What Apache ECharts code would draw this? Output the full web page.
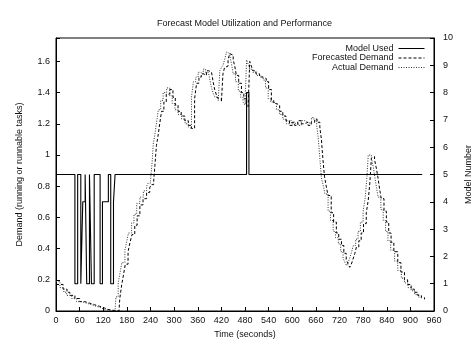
<!DOCTYPE html>
<html>
<head>
<meta charset="utf-8">
<script src="https://cdn.jsdelivr.net/npm/echarts@6/dist/echarts.min.js"></script>
<style>
  html, body { margin: 0; padding: 0; background: #fff; }
  #main { width: 474px; height: 344px; }
</style>
</head>
<body>
<div id="main"></div>
<script>
// time (s) ticks
var timeTicks = [0, 60, 120, 180, 240, 300, 360, 420, 480, 540, 600, 660, 720, 780, 840, 900, 960];

// model number in use, [time, model]
var modelUsed = [[0,5],[48,1],[55,5],[63,1],[68,4],[74,5],[78,1],[85,5],[90,1],[97,5],[112,1],[118,4],
  [133,5],[139,1],[146,4],[150,5],[484,8],[490,5],[930,5]];

// actual demand, [time, tasks]
var actualDemand = [[0,0.19],[10,0.15],[20,0.12],[27,0.10],[40,0.08],[52,0.06],[65,0.05],[78,0.04],[90,0.03],
  [103,0.02],[115,0.01],[124,0.005],[135,0],[150,0],[152,0.09],[158,0.18],[163,0.25],[167,0.31],[175,0.39],
  [180,0.45],[184,0.50],[192,0.565],[198,0.62],[205,0.69],[213,0.73],[222,0.77],[230,0.80],[234,0.82],
  [240,0.835],[244,0.95],[247,1.07],[251,1.13],[256,1.22],[260,1.29],[266,1.35],[272,1.40],[281,1.43],
  [289,1.38],[295,1.33],[302,1.29],[310,1.26],[319,1.23],[328,1.20],[336,1.18],[340,1.17],[344,1.37],
  [349,1.47],[355,1.50],[361,1.53],[367,1.52],[374,1.55],[380,1.53],[387,1.54],[391,1.48],[395,1.43],
  [400,1.39],[404,1.37],[412,1.35],[416,1.54],[420,1.56],[425,1.58],[429,1.62],[433,1.66],[438,1.65],
  [442,1.63],[446,1.58],[450,1.52],[456,1.47],[463,1.41],[469,1.37],[475,1.34],[480,1.32],[484,1.61],
  [488,1.58],[492,1.55],[500,1.53],[509,1.51],[517,1.50],[526,1.48],[532,1.43],[539,1.36],[545,1.34],
  [552,1.33],[560,1.29],[568,1.26],[576,1.23],[585,1.20],[592,1.22],[598,1.20],[606,1.21],[615,1.19],
  [623,1.22],[632,1.21],[640,1.20],[649,1.24],[655,1.22],[662,1.19],[666,1.11],[670,0.98],[674,0.855],
  [679,0.80],[683,0.75],[691,0.64],[697,0.58],[704,0.51],[710,0.47],[717,0.43],[723,0.38],[729,0.34],
  [734,0.31],[738,0.29],[742,0.31],[746,0.34],[751,0.38],[755,0.42],[761,0.46],[767,0.51],[773,0.57],
  [780,0.64],[785,0.72],[789,0.835],[793,1.0],[797,1.0],[801,0.98],[806,0.92],[810,0.855],[814,0.79],
  [818,0.73],[825,0.65],[831,0.58],[837,0.51],[843,0.45],[850,0.39],[860,0.32],[868,0.26],[877,0.21],
  [885,0.18],[894,0.15],[902,0.13],[911,0.105],[920,0.09],[928,0.083]];

// forecasted demand, [time, tasks]
var forecastDemand = [[0,0.17],[8,0.17],[18,0.14],[28,0.12],[35,0.10],[48,0.08],[60,0.06],[73,0.05],[86,0.04],
  [98,0.03],[111,0.02],[123,0.01],[132,0.005],[143,0],[160,0],[162,0.08],[167,0.17],[172,0.24],[176,0.30],
  [183,0.38],[188,0.44],[193,0.49],[200,0.55],[206,0.61],[213,0.68],[221,0.72],[230,0.76],[238,0.79],
  [242,0.81],[248,0.83],[252,0.96],[255,1.06],[259,1.12],[264,1.21],[268,1.28],[274,1.34],[280,1.39],
  [289,1.42],[297,1.37],[303,1.32],[310,1.28],[318,1.25],[327,1.22],[336,1.19],[344,1.17],[348,1.17],
  [352,1.36],[357,1.46],[363,1.50],[369,1.52],[375,1.51],[382,1.54],[388,1.53],[395,1.52],[399,1.47],
  [403,1.42],[408,1.38],[412,1.36],[420,1.34],[424,1.52],[428,1.56],[433,1.57],[437,1.61],[441,1.65],
  [446,1.64],[450,1.61],[454,1.57],[458,1.51],[464,1.46],[471,1.40],[477,1.36],[483,1.33],[488,1.31],
  [492,1.60],[496,1.57],[500,1.54],[508,1.52],[517,1.50],[525,1.49],[534,1.47],[540,1.42],[547,1.35],
  [553,1.33],[560,1.32],[568,1.28],[576,1.25],[584,1.22],[593,1.19],[600,1.21],[606,1.19],[614,1.22],
  [623,1.20],[631,1.21],[640,1.19],[648,1.21],[657,1.23],[663,1.21],[670,1.18],[674,1.10],[678,0.97],
  [682,0.86],[687,0.79],[691,0.74],[699,0.63],[705,0.57],[712,0.50],[718,0.46],[725,0.42],[731,0.37],
  [737,0.33],[742,0.30],[746,0.28],[750,0.30],[754,0.33],[759,0.37],[763,0.41],[769,0.45],[775,0.50],
  [781,0.56],[788,0.63],[793,0.71],[797,0.82],[801,0.98],[805,0.99],[809,0.97],[814,0.91],[818,0.85],
  [822,0.78],[826,0.72],[833,0.64],[839,0.57],[845,0.50],[851,0.44],[858,0.38],[868,0.31],[876,0.25],
  [885,0.20],[893,0.17],[902,0.14],[910,0.12],[919,0.10],[928,0.085],[936,0.075]];

var seriesNames = ['Model Used', 'Forecasted Demand', 'Actual Demand'];

var font = 'Liberation Sans, Arial, Helvetica, sans-serif';
var ink = '#111';

var myChart = echarts.init(document.getElementById('main'));

// one legend per row so the line samples line up on the right
function legendRow(name, top) {
  return {
    data: [name],
    orient: 'vertical',
    align: 'right',
    right: 49,
    top: top,
    itemWidth: 26,
    itemHeight: 8,
    padding: 0,
    selectedMode: false,
    itemStyle: { opacity: 0 },
    lineStyle: { width: 1 },
    textStyle: { fontFamily: font, fontSize: 9, color: ink }
  };
}

var option = {
  animation: false,
  backgroundColor: '#fff',
  title: {
    text: 'Forecast Model Utilization and Performance',
    left: 157,
    top: 19,
    padding: 0,
    textStyle: { fontFamily: font, fontSize: 9, fontWeight: 'normal', color: ink }
  },
  legend: [
    legendRow(seriesNames[0], 44),
    legendRow(seriesNames[1], 53.5),
    legendRow(seriesNames[2], 63)
  ],
  grid: {
    left: 56, right: 40, top: 38, bottom: 33,
    show: true, borderColor: '#000', borderWidth: 1,
    outerBoundsMode: 'none'
  },
  xAxis: {
    type: 'value',
    min: timeTicks[0],
    max: timeTicks[timeTicks.length - 1],
    interval: 60,
    name: 'Time (seconds)',
    nameLocation: 'middle',
    nameGap: 17,
    nameTextStyle: { fontFamily: font, fontSize: 9, color: ink },
    axisLine: { lineStyle: { color: '#000', width: 1 } },
    axisTick: { inside: true, length: 4, lineStyle: { color: '#000' } },
    axisLabel: { fontFamily: font, fontSize: 9, color: ink, margin: 5 },
    splitLine: { show: false }
  },
  yAxis: [{
    type: 'value',
    min: 0,
    max: 1.75,
    interval: 0.2,
    name: 'Demand (running or runnable tasks)',
    nameLocation: 'middle',
    nameRotate: 90,
    nameGap: 32,
    nameTextStyle: { fontFamily: font, fontSize: 9, color: ink },
    axisLine: { show: true, lineStyle: { color: '#000', width: 1 } },
    axisTick: { inside: true, length: 4, lineStyle: { color: '#000' } },
    axisLabel: {
      fontFamily: font, fontSize: 9, color: ink, margin: 6,
      formatter: function (v) { return v > 1.7 ? '' : +v.toFixed(1) + ''; }
    },
    splitLine: { show: false }
  }, {
    type: 'value',
    position: 'right',
    min: 0,
    max: 10,
    interval: 1,
    name: 'Model Number',
    nameLocation: 'middle',
    nameRotate: 90,
    nameGap: 28,
    nameTextStyle: { fontFamily: font, fontSize: 9, color: ink },
    axisLine: { show: true, lineStyle: { color: '#000', width: 1 } },
    axisTick: { inside: true, length: 4, lineStyle: { color: '#000' } },
    axisLabel: { fontFamily: font, fontSize: 9, color: ink, margin: 9 },
    splitLine: { show: false }
  }],
  series: [{
    name: seriesNames[0],
    type: 'line',
    yAxisIndex: 1,
    step: 'end',
    data: modelUsed,
    showSymbol: false,
    symbol: 'none',
    lineStyle: { color: '#000', width: 1.1 },
    itemStyle: { color: '#000' }
  }, {
    name: seriesNames[1],
    type: 'line',
    yAxisIndex: 0,
    step: 'end',
    data: forecastDemand,
    showSymbol: false,
    symbol: 'none',
    lineStyle: { color: '#000', width: 1, type: [3, 2] },
    itemStyle: { color: '#000' }
  }, {
    name: seriesNames[2],
    type: 'line',
    yAxisIndex: 0,
    step: 'end',
    data: actualDemand,
    showSymbol: false,
    symbol: 'none',
    lineStyle: { color: '#333', width: 1, type: [1, 1.5] },
    itemStyle: { color: '#333' }
  }]
};

myChart.setOption(option);
</script>
</body>
</html>
